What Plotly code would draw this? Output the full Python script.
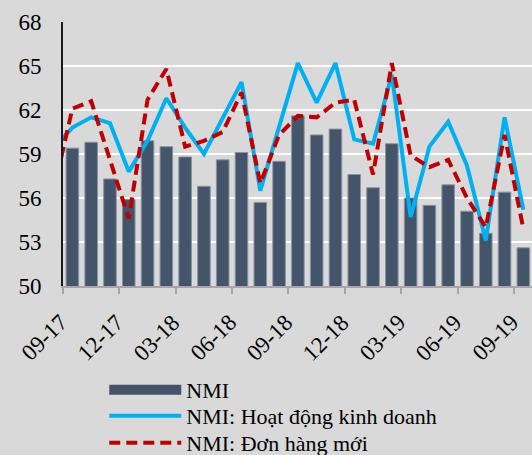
import plotly.graph_objects as go

# months on the axis; the lines also carry one earlier month that sits outside the axis range
months = ["09-17", "10-17", "11-17", "12-17", "01-18", "02-18", "03-18", "04-18", "05-18",
          "06-18", "07-18", "08-18", "09-18", "10-18", "11-18", "12-18", "01-19", "02-19",
          "03-19", "04-19", "05-19", "06-19", "07-19", "08-19", "09-19"]

nmi = [59.4, 59.8, 57.3, 55.9, 59.9, 59.5, 58.8, 56.8, 58.6, 59.1, 55.7, 58.5, 61.6,
       60.3, 60.7, 57.6, 56.7, 59.7, 56.0, 55.5, 56.9, 55.1, 53.6, 56.4, 52.6]

# first value = 08-17 (cut off by the left axis)
hoat_dong = [59.4, 60.8, 61.5, 61.1, 57.8, 59.9, 62.8, 60.8, 59.0, 61.4, 63.9, 56.5, 60.9,
             65.2, 62.5, 65.2, 60.0, 59.7, 64.4, 54.7, 59.5, 61.2, 58.2, 53.1, 61.5, 55.2]
don_hang = [56.5, 62.1, 62.6, 58.7, 54.6, 62.7, 64.8, 59.5, 59.9, 60.5, 63.2, 57.0, 60.3,
            61.6, 61.5, 62.5, 62.7, 57.6, 65.2, 58.9, 58.1, 58.6, 56.0, 54.0, 60.3, 53.9]

x_bar = list(range(len(months)))
x_line = list(range(-1, len(months)))

font = "Liberation Serif"
bar_color = "#44546a"
H = 455

fig = go.Figure()
fig.add_trace(go.Bar(x=x_bar, y=nmi, name="NMI", marker_color=bar_color,
                     marker_line=dict(color="#8a94a3", width=1), showlegend=False))
# wide legend swatch for the bars, like the Excel legend
fig.add_trace(go.Scatter(x=[None], y=[None], mode="lines", name="NMI",
                         line=dict(color=bar_color, width=13), legend="legend"))
fig.add_trace(go.Scatter(x=x_line, y=hoat_dong, mode="lines", name="NMI: Hoạt động kinh doanh",
                         line=dict(color="#00b0f0", width=4), legend="legend2"))
fig.add_trace(go.Scatter(x=x_line, y=don_hang, mode="lines", name="NMI: Đơn hàng mới",
                         line=dict(color="#c00000", width=4, dash="11px,6px"), legend="legend3"))

def leg(yc):
    # one legend per row so the rows sit as close as in the original
    return dict(x=0.088, y=1 - yc / H, xref="paper", yref="container",
                xanchor="left", yanchor="middle", bgcolor="rgba(0,0,0,0)",
                font=dict(family=font, size=22), itemwidth=72)

# month labels as rotated annotations, so their ends sit right under the bars
for i in x_bar[::3]:
    fig.add_annotation(x=i, y=-0.08, xref="x", yref="paper", text=months[i],
                       textangle=-45, showarrow=False, xanchor="right", yanchor="top",
                       xshift=3, font=dict(family=font, size=23, color="#000000"))

fig.update_layout(
    width=532, height=H,
    margin=dict(l=63, r=0, t=22, b=169),
    paper_bgcolor="#d9d9d9", plot_bgcolor="#d9d9d9",
    bargap=0.33,
    font=dict(family=font, size=23, color="#000000"),
    showlegend=True,
    legend=leg(390), legend2=leg(416), legend3=leg(443),
)
fig.update_xaxes(
    range=[-0.5, 24.46], automargin=False, showticklabels=False,
    tickmode="array", tickvals=x_bar[::3], ticks="", showgrid=False, zeroline=False,
    showline=True, linecolor="#a6a6a6", linewidth=1.5,
    minor=dict(tickmode="linear", tick0=-0.5, dtick=3, ticks="outside", ticklen=6,
               tickcolor="#a6a6a6", tickwidth=1.5, showgrid=False),
)
fig.update_yaxes(
    range=[50, 68], tickvals=[50, 53, 56, 59, 62, 65, 68], automargin=False,
    showgrid=True, gridcolor="#ffffff", gridwidth=2, zeroline=False,
    showline=True, linecolor="#1a1a1a", linewidth=2, ticks="",
    ticklabelstandoff=15,
)

fig.write_html("out.html", config={"displayModeBar": False},
               post_script="document.body.style.margin='0px';")
